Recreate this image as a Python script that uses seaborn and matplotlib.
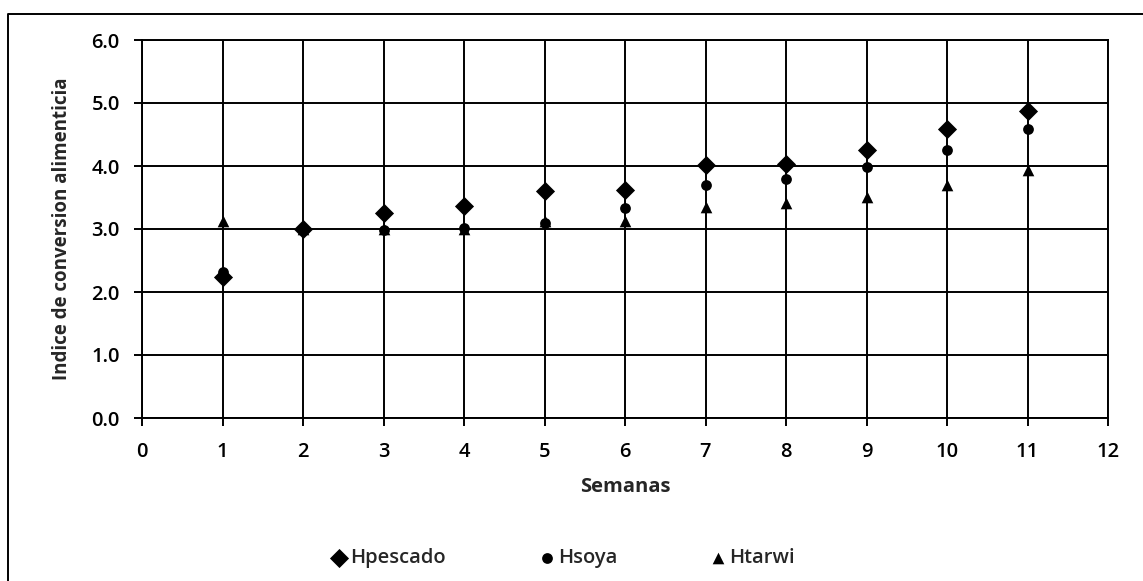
import matplotlib
matplotlib.use("Agg")
import matplotlib.pyplot as plt
import seaborn as sns
import pandas as pd
from matplotlib.lines import Line2D

semanas = [1, 2, 3, 4, 5, 6, 7, 8, 9, 10, 11]
hpescado = [2.24, 3.00, 3.26, 3.36, 3.60, 3.62, 4.01, 4.03, 4.25, 4.59, 4.87]
hsoya = [2.32, 3.00, 2.98, 3.02, 3.10, 3.33, 3.70, 3.79, 3.98, 4.26, 4.59]
htarwi = [3.12, 3.00, 3.00, 3.00, 3.12, 3.12, 3.35, 3.41, 3.51, 3.70, 3.93]
series = ["Hpescado", "Hsoya", "Htarwi"]

df = pd.DataFrame({
    "Semanas": semanas * 3,
    "valor": htarwi + hsoya + hpescado,
    "serie": ["Htarwi"] * 11 + ["Hsoya"] * 11 + ["Hpescado"] * 11,
})

sns.set_style("white")
plt.rcParams["font.family"] = ["Open Sans", "DejaVu Sans"]

W, H = 1143, 581
fig = plt.figure(figsize=(W / 100, H / 100), dpi=100)
ax = fig.add_axes([142 / W, 1 - 418 / H, (1108 - 142) / W, (418 - 40) / H])

markers = {"Hpescado": "D", "Hsoya": "o", "Htarwi": "^"}
sizes = {"Hpescado": 95, "Hsoya": 60, "Htarwi": 70}
for s in ["Htarwi", "Hsoya", "Hpescado"]:
    sub = df[df["serie"] == s]
    sns.scatterplot(data=sub, x="Semanas", y="valor", marker=markers[s], s=sizes[s],
                    color="black", edgecolor="black", linewidth=0, ax=ax, zorder=3, label=s)

ax.set_xlim(0, 12)
ax.set_ylim(0, 6)
ax.set_xticks(range(0, 13))
ax.set_yticks([0, 1, 2, 3, 4, 5, 6])
ax.set_yticklabels(["%.1f" % v for v in range(7)])
ax.grid(True, color="black", linewidth=1.4)
ax.set_axisbelow(True)
for sp in ax.spines.values():
    sp.set_color("black")
    sp.set_linewidth(1.4)
ax.tick_params(axis="both", direction="out", length=6, width=1.4, color="black",
               labelsize=14.5, labelcolor="black", bottom=True, left=True)
ax.tick_params(axis="x", pad=11)
ax.tick_params(axis="y", pad=10)
for lbl in ax.get_xticklabels() + ax.get_yticklabels():
    lbl.set_fontweight("semibold")
ax.set_xlabel("Semanas", fontsize=14.5, fontweight="bold", labelpad=11)
ax.set_ylabel("Indice de conversion alimenticia", fontsize=13.5, fontweight="bold", labelpad=14)

handles, labels = ax.get_legend_handles_labels()
ax.get_legend().remove()
order = [labels.index(s) for s in series]
fig.legend([handles[i] for i in order], series, loc="center", bbox_to_anchor=(562 / W, 1 - 558 / H),
           ncol=3, frameon=False, prop={"size": 14.5, "weight": "semibold"},
           handletextpad=0.05, columnspacing=4.5, markerscale=1.0, handlelength=1.0)

# chart border (only top and left edge are inside the picture)
fig.add_artist(Line2D([8 / W, 8 / W, 1.0], [0.0, 1 - 14 / H, 1 - 14 / H],
                      transform=fig.transFigure, color="black", linewidth=1.4))

fig.savefig("out.png", dpi=100, facecolor="white")
